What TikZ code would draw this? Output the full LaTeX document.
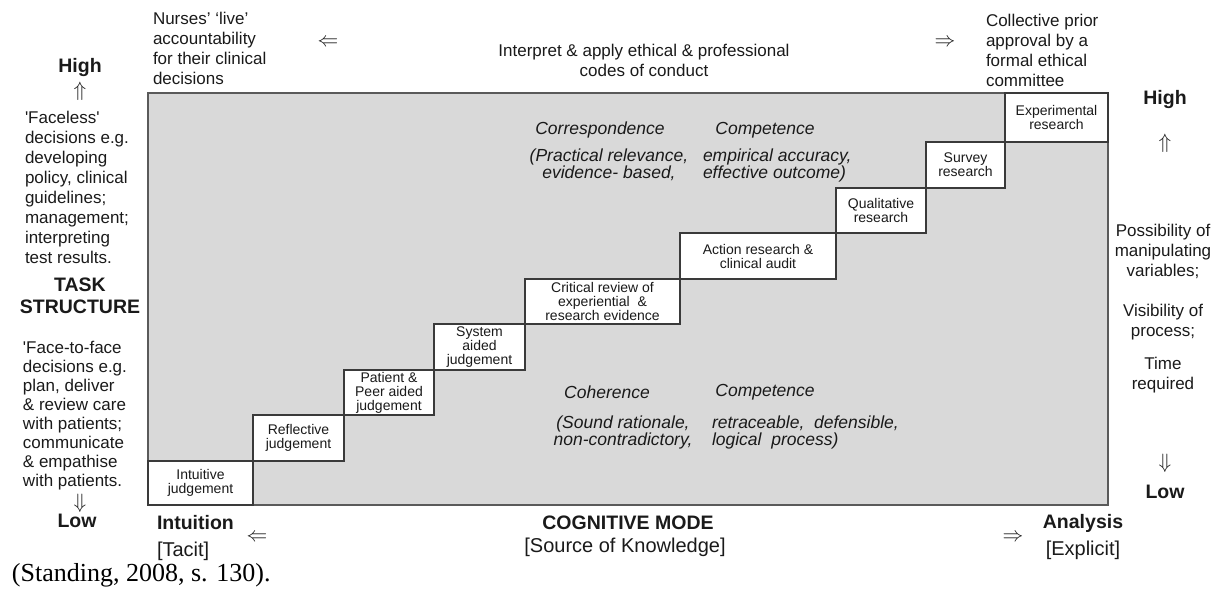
\documentclass[tikz,border=0pt]{standalone}
\usepackage{fontspec}
\setmainfont{Liberation Sans}
\newfontfamily\citefont{Liberation Serif}
\definecolor{ink}{HTML}{1A1A1A}
\definecolor{panelfill}{HTML}{D9D9D9}
\definecolor{panelline}{HTML}{5A5A5A}
\definecolor{boxline}{HTML}{3A3A3A}
\begin{document}
\begin{tikzpicture}[x=1pt,y=-1pt,
  every node/.style={inner sep=0pt, outer sep=0pt, text=ink},
  body/.style={font=\fontsize{17}{20}\selectfont},
  head/.style={font=\fontsize{19.5}{22}\selectfont\bfseries},
  brack/.style={font=\fontsize{20}{24}\selectfont},
  ital/.style={font=\fontsize{17.5}{17}\selectfont\itshape},
  arrowsym/.style={font=\fontsize{21}{21}\selectfont},
  stepbox/.style={draw=boxline, line width=1.2pt, fill=white, align=center,
    font=\fontsize{14}{14}\selectfont, anchor=north west},
]
\useasboundingbox (0,0) rectangle (1223,590);

% grey panel
\node[draw=panelline, line width=2pt, fill=panelfill, anchor=north west,
  minimum width=960pt, minimum height=412pt] (panel) at (148,93) {};

% staircase of methods
\node[stepbox, minimum width=105pt, minimum height=44pt] (s1) at (148,461) {Intuitive\\judgement};
\node[stepbox, minimum width=91pt,  minimum height=46pt] (s2) at (253,415) {Reflective\\judgement};
\node[stepbox, minimum width=90pt,  minimum height=45pt] (s3) at (344,370) {Patient \&\\Peer aided\\judgement};
\node[stepbox, minimum width=91pt,  minimum height=46pt] (s4) at (434,324) {System\\aided\\judgement};
\node[stepbox, minimum width=155pt, minimum height=45pt] (s5) at (525,279) {Critical review of\\experiential\ \ \&\\research evidence};
\node[stepbox, minimum width=156pt, minimum height=46pt] (s6) at (680,233) {Action research \&\\clinical audit};
\node[stepbox, minimum width=90pt,  minimum height=45pt] (s7) at (836,188) {Qualitative\\research};
\node[stepbox, minimum width=79pt,  minimum height=46pt] (s8) at (926,142) {Survey\\research};
\node[stepbox, minimum width=103pt, minimum height=49pt] (s9) at (1005,93) {Experimental\\research};

% criteria inside the panel
\node[ital] (corr) at (600,130) {Correspondence};
\node[ital] (compA) at (765,130) {Competence};
\node[ital, align=center, anchor=north] (corrtxt) at (609,148.5) {(Practical relevance,\\evidence- based,};
\node[ital, align=left, anchor=north west] (compAtxt) at (703,148.5) {empirical accuracy,\\effective outcome)};
\node[ital] (coh) at (607,392) {Coherence};
\node[ital] (compB) at (765,392) {Competence};
\node[ital, align=center, anchor=north] (cohtxt) at (623,415.5) {(Sound rationale,\\non-contradictory,};
\node[ital, align=left, anchor=north west] (compBtxt) at (712,415.5) {retraceable,\ \ defensible,\\logical\ \ process)};

% top row
\node[body, align=left, anchor=north west] (live) at (153,12) {Nurses’ ‘live’\\accountability\\for their clinical\\decisions};
\node[arrowsym] (tl) at (328,43) {$\Leftarrow$};
\node[body, align=center, anchor=north] (codes) at (644,44) {Interpret \& apply ethical \& professional\\codes of conduct};
\node[arrowsym] (tr) at (945,43) {$\Rightarrow$};
\node[body, align=left, anchor=north west] (committee) at (986,14) {Collective prior\\approval by a\\formal ethical\\committee};

% left axis: task structure
\node[head] (lhigh) at (80,67) {High};
\node[arrowsym] (lup) at (80,91) {$\Uparrow$};
\node[body, align=left, anchor=north west] (faceless) at (25,111) {\textquotesingle Faceless\textquotesingle\\decisions e.g.\\developing\\policy, clinical\\guidelines;\\management;\\interpreting\\test results.};
\node[head, align=center, anchor=north] (task) at (80,278) {TASK\\STRUCTURE};
\node[body, font=\fontsize{17}{19}\selectfont, align=left, anchor=north west] (facetoface) at (23,341) {\textquotesingle Face-to-face\\decisions e.g.\\plan, deliver\\\& review care\\with patients;\\communicate\\\& empathise\\with patients.};
\node[arrowsym] (ldown) at (80,503) {$\Downarrow$};
\node[head] (llow) at (77,521) {Low};

% right axis
\node[head] (rhigh) at (1165,99) {High};
\node[arrowsym] (rup) at (1165,143) {$\Uparrow$};
\node[body, align=center, anchor=north] (manip) at (1163,224) {Possibility of\\manipulating\\variables;};
\node[body, align=center, anchor=north] (visib) at (1163,304) {Visibility of\\process;};
\node[body, align=center, anchor=north] (timereq) at (1163,357) {Time\\required};
\node[arrowsym] (rdown) at (1165,463) {$\Downarrow$};
\node[head] (rlow) at (1165,492) {Low};

% bottom axis: cognitive mode
\node[head, anchor=west] (intuition) at (157,523) {Intuition};
\node[brack, anchor=west] (tacit) at (157,551) {[Tacit]};
\node[arrowsym] (bl) at (257,538) {$\Leftarrow$};
\node[head] (mode) at (628,523) {COGNITIVE MODE};
\node[brack] (source) at (625,547) {[Source of Knowledge]};
\node[arrowsym] (br) at (1013,538) {$\Rightarrow$};
\node[head] (analysis) at (1083,523) {Analysis};
\node[brack] (explicit) at (1083,550) {[Explicit]};

% source
\node[anchor=west, font=\citefont\fontsize{26}{28}\selectfont, text=black] (cite) at (12,575) {(Standing, 2008, s. 130).};
\end{tikzpicture}
\end{document}
